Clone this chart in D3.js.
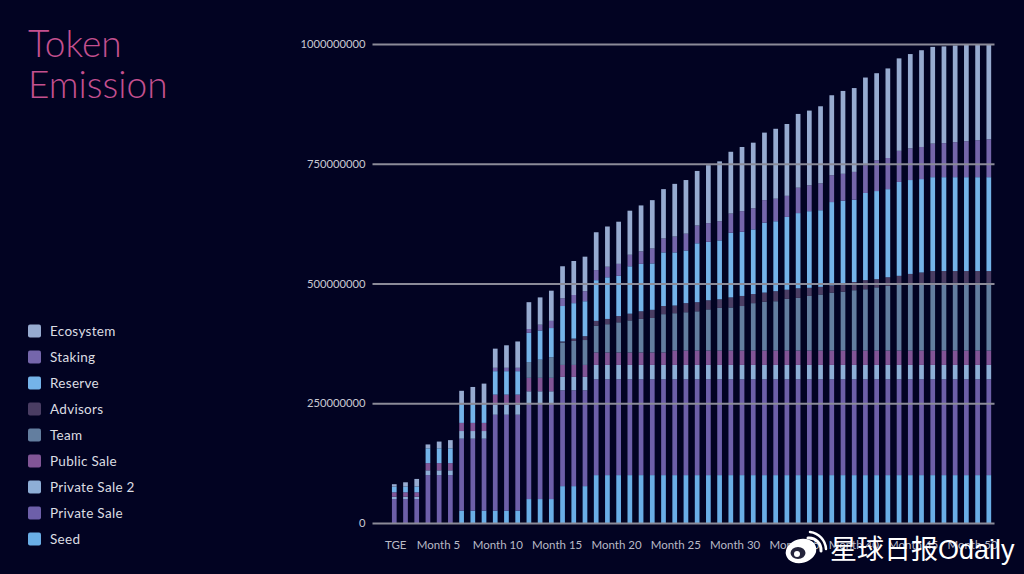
<!DOCTYPE html>
<html>
<head>
<meta charset="utf-8">
<script src="https://cdn.jsdelivr.net/npm/d3@7/dist/d3.min.js"></script>
<style>
html,body{margin:0;padding:0;background:#020322;overflow:hidden}
svg{display:block}
</style>
</head>
<body>
<svg id="c" width="1024" height="574"></svg>
<script>
// values in millions of tokens, one entry per bar
const seed = [0,0,0,0,0,0,26,26,26,26,26,26,50,50,50,77,77,77,100,100,100,100,100,100,100,100,100,100,100,100,100,100,100,100,100,100,100,100,100,100,100,100,100,100,100,100,100,100,100,100,100,100,100,100];
const privateSale = [50,50,50,100,100,100,150,150,150,200,200,200,200,200,200,200,200,200,200,200,200,200,200,200,200,200,200,200,200,200,200,200,200,200,200,200,200,200,200,200,200,200,200,200,200,200,200,200,200,200,200,200,200,200];
const privateSale2 = [5,5,5,10,10,10,16,16,16,21,21,21,25,25,25,28,28,28,30,30,30,30,30,30,30,30,30,30,30,30,30,30,30,30,30,30,30,30,30,30,30,30,30,30,30,30,30,30,30,30,30,30,30,30];
const publicSale = [9,9,9,15,15,15,17,17,17,21,21,21,28,28,28,25,25,25,26,26,26,26,26,26,26,30,30,30,30,30,30,30,30,30,30,30,30,30,30,30,30,30,30,30,30,30,30,30,30,30,30,30,30,30];
const team = [0,0,0,0,0,0,0,0,0,0,0,0,33,38,43,47,50,52,56,59,63,67,70,72,80,78,80,82,86,89,90,93,99,102,103,108,110,114,117,121,123,126,128,132,135,137,138,140,142,142,142,142,142,142];
const advisors = [0,0,0,0,0,0,0,0,0,0,0,0,0,0,0,2,5,8,10,11,13,14,16,17,17,16,19,19,19,18,21,21,19,19,21,19,20,17,16,15,14,17,19,17,18,19,22,23,24,24,24,24,24,24];
const reserve = [12,12,12,31,31,31,38,38,38,49,49,49,61,61,61,74,74,73,85,87,84,99,99,97,112,111,110,123,122,123,135,134,135,146,146,152,157,160,160,174,176,172,182,184,184,196,196,195,196,196,196,196,196,196];
const staking = [0,0,0,0,0,0,0,0,0,7,7,7,8,12,15,16,17,21,21,22,25,24,26,31,29,33,35,37,39,40,40,43,44,47,47,44,53,54,56,56,56,58,58,64,65,65,66,67,70,71,73,75,77,79];
const ecosystem = [5,9,16,8,14,17,29,37,44,40,47,55,56,57,63,67,71,72,79,84,88,92,96,101,103,110,112,114,121,125,129,134,137,141,146,150,154,156,161,167,173,175,183,182,187,193,197,202,202,202,202,201,199,198];

const seriesNames = ["Seed","Private Sale","Private Sale 2","Public Sale","Team","Advisors","Reserve","Staking","Ecosystem"];
const seriesValues = [seed,privateSale,privateSale2,publicSale,team,advisors,reserve,staking,ecosystem];
const seriesColors = ["#6aaee6","#6d5fa9","#8eaed6","#815596","#637e9f","#4a3d63","#74b3e9","#7566ab","#97abd0"];
const yTicks = [0,250,500,750,1000];
const xTickMonths = [1.4,5,10,15,20,25,30,35,40,45,50];
const xTickLabels = ["TGE","Month 5","Month 10","Month 15","Month 20","Month 25","Month 30","Month 35","Month 40","Month 45","Month 50"];
const titleLines = ["Token","Emission"];

const svg = d3.select("#c");
const barIndex = d3.range(seed.length);
const x = d3.scaleBand().domain(barIndex).range([388.9,994.2]).paddingInner(0.58).paddingOuter(0.27);
const y = d3.scaleLinear().domain([0,1000]).range([523,44]);
const xLabel = d3.scaleLinear().domain([5,50]).range([438,972]);

const rows = barIndex.map(i => {
  const r = {};
  seriesNames.forEach((n,k) => r[n] = seriesValues[k][i]);
  return r;
});
const stacked = d3.stack().keys(seriesNames)(rows);

svg.append("g").selectAll("g").data(stacked).join("g")
  .attr("fill",(d,i)=>seriesColors[i])
  .selectAll("rect").data(d=>d).join("rect")
  .attr("x",(d,i)=>x(i))
  .attr("width",x.bandwidth())
  .attr("y",d=>y(d[1]))
  .attr("height",d=>Math.max(0,y(d[0])-y(d[1])));

// grid lines over the bars, with their labels
const yAxis = d3.axisLeft(y).tickValues(yTicks).tickFormat(d=>String(d*1e6)).tickSize(0).tickPadding(7);
const gy = svg.append("g").attr("transform","translate(372.5,0)").call(yAxis);
gy.select(".domain").remove();
gy.selectAll("text").attr("fill","#c9c9d3").attr("font-size",11.2).attr("font-family","Lato, sans-serif");
gy.selectAll(".tick line").attr("x2",622).attr("stroke","#8b8b98").attr("stroke-width",1.8);

const xAxis = d3.axisBottom(xLabel).tickValues(xTickMonths).tickFormat((d,i)=>xTickLabels[i]).tickSize(0).tickPadding(0);
const gx = svg.append("g").attr("transform","translate(0,541)").call(xAxis);
gx.select(".domain").remove();
gx.selectAll("text").attr("fill","#b9bac6").attr("font-size",11.5).attr("font-family","Lato, sans-serif");

// title
svg.append("g").selectAll("text").data(titleLines).join("text")
  .attr("x",28).attr("y",(d,i)=>57+i*41)
  .attr("fill","#c4508f").attr("font-size",37).attr("font-weight",300)
  .attr("font-family","Lato, sans-serif")
  .text(d=>d);

// legend, top entry is the last series
const legendScale = d3.scalePoint().domain(seriesNames.slice().reverse()).range([331,539]);
const leg = svg.append("g").selectAll("g").data(seriesNames.slice().reverse()).join("g")
  .attr("transform",d=>`translate(28,${legendScale(d)})`);
leg.append("rect").attr("x",0).attr("y",-6.5).attr("width",13).attr("height",13).attr("rx",2)
  .attr("fill",d=>seriesColors[seriesNames.indexOf(d)]);
leg.append("text").attr("x",22).attr("dy","0.35em").attr("fill","#dcdde3")
  .attr("font-size",13.5).attr("font-family","Lato, sans-serif").attr("letter-spacing",0.3).text(d=>d);

// source watermark
const wm = svg.append("g");
wm.append("ellipse").attr("cx",801).attr("cy",551).attr("rx",15.5).attr("ry",12).attr("fill","#fff").attr("transform","rotate(-15 801 551)");
wm.append("ellipse").attr("cx",798).attr("cy",553).attr("rx",7.5).attr("ry",6).attr("fill","#23233a");
wm.append("circle").attr("cx",797).attr("cy",554).attr("r",3).attr("fill","#fff");
wm.append("path").attr("d","M808 538 A12 12 0 0 1 821 551").attr("fill","none").attr("stroke","#fff").attr("stroke-width",3).attr("stroke-linecap","round");
wm.append("path").attr("d","M810 532 A18 18 0 0 1 826 549").attr("fill","none").attr("stroke","#fff").attr("stroke-width",2.5).attr("stroke-linecap","round");
wm.append("text").attr("x",830).attr("y",559).attr("fill","#fff").attr("font-size",27)
  .attr("font-family","'Liberation Sans','Noto Sans CJK SC', sans-serif").text("星球日报Odaily");
</script>
</body>
</html>
